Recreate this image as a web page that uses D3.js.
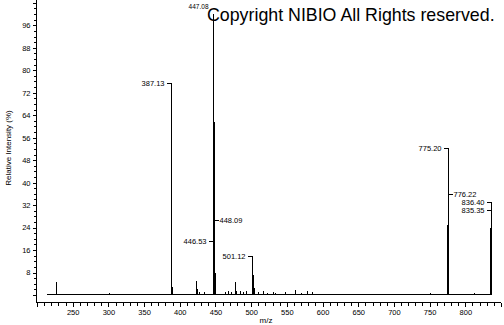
<!DOCTYPE html>
<html>
<head>
<meta charset="utf-8">
<script src="https://cdn.jsdelivr.net/npm/d3@7"></script>
<style>
  body { margin: 0; background: #fff; }
  svg { display: block; font-family: "Liberation Sans", Arial, sans-serif; }
</style>
</head>
<body>
<div id="chart"></div>
<script>
// spectrum peaks (m/z, relative intensity %)
const peakMz = [226.0, 262.5, 277, 293, 301, 339, 355, 371,
  387.13, 388.1, 389.2, 422.7, 424.5, 426.5, 433.5,
  446.53, 447.08, 447.6, 448.09, 449.6,
  463.4, 467.7, 471.8, 477.5, 479, 484.5, 489, 493,
  501.12, 502.1, 504.6, 510, 517, 522, 530, 534, 547.6, 561.7, 570, 578, 585, 600, 626,
  714, 733, 740, 751, 774.8, 775.2, 776.22, 790, 812, 834.9, 835.35, 836.40];
const peakInt = [4.6, 0.5, 0.5, 0.4, 0.6, 0.5, 0.4, 0.4,
  75.5, 40.5, 3, 5.1, 2.2, 1, 1.2,
  19.3, 100, 61.7, 26.7, 7.8,
  1, 1.5, 1.2, 4.6, 1.5, 1.5, 1, 1.3,
  10.8, 7, 2.6, 1, 1.4, 0.8, 1, 0.7, 1, 1.8, 0.6, 1.3, 1, 0.5, 0.5,
  0.5, 0.5, 0.5, 0.6, 25, 52.2, 36, 0.4, 0.6, 23.8, 30.2, 33.2];
const scanRange = [214.6, 838];

// labelled peaks
const labelMz = [387.13, 447.08, 446.53, 448.09, 501.12, 775.20, 776.22, 836.40, 835.35];
const labelText = ['387.13', '447.08', '446.53', '448.09', '501.12', '775.20', '776.22', '836.40', '835.35'];
const labelSide = ['left', 'left', 'left', 'right', 'left', 'left', 'right', 'left', 'left'];

// axes
const xDomain = [200, 850];
const yDomain = [-2.5, 105];
const xTicks = d3.range(200, 851, 10);
const yTicks = d3.range(0, 105, 2);

const width = 504;
const height = 325;

const svg = d3.select('#chart')
  .append('svg')
  .attr('width', width)
  .attr('height', height);

svg.append('rect').attr('width', width).attr('height', height).attr('fill', '#fff');

const x = d3.scaleLinear().domain(xDomain).range([37, 501]);
const y = d3.scaleLinear().domain(yDomain).range([302, 0]);

// x axis
const xAxis = svg.append('g')
  .attr('transform', 'translate(0,302.5)')
  .call(d3.axisBottom(x)
    .tickValues(xTicks)
    .tickSizeOuter(0)
    .tickSize(3)
    .tickFormat(d => (d % 50 === 0 && d > 200 && d < 850) ? d : ''));
xAxis.select('.domain').attr('d', `M36,0H${x(850)}`);
xAxis.selectAll('text').attr('font-size', 7.5).attr('dy', '0.9em').attr('font-family', null);
xAxis.selectAll('.tick line').attr('y2', d => d % 50 === 0 ? 4 : 3);

// y axis
const yAxis = svg.append('g')
  .attr('transform', 'translate(36.5,0)')
  .call(d3.axisLeft(y)
    .tickValues(yTicks)
    .tickSizeOuter(0)
    .tickSize(3)
    .tickFormat(d => (d % 8 === 0 && d > 0 && d < 100) ? d : ''));
yAxis.select('.domain').attr('d', `M0,0V302.5`);
yAxis.selectAll('text').attr('font-size', 7.5).attr('x', -6).attr('font-family', null);
yAxis.selectAll('.tick line').attr('x2', d => d % 8 === 0 ? -4 : -3);
svg.selectAll('.domain, .tick line').attr('stroke', '#000').attr('shape-rendering', 'crispEdges');

// axis titles
svg.append('text')
  .attr('x', 266).attr('y', 323)
  .attr('text-anchor', 'middle')
  .attr('font-size', 8)
  .text('m/z');

svg.append('text')
  .attr('transform', 'translate(11,148) rotate(-90)')
  .attr('text-anchor', 'middle')
  .attr('font-size', 8)
  .text('Relative Intensity (%)');

// spectrum: baseline and sticks
const spec = svg.append('g')
  .attr('stroke', '#000')
  .attr('stroke-width', 1)
  .attr('shape-rendering', 'crispEdges');

spec.append('line')
  .attr('x1', x(scanRange[0])).attr('x2', x(scanRange[1]))
  .attr('y1', Math.round(y(0)) - 0.5).attr('y2', Math.round(y(0)) - 0.5);

spec.selectAll('.peak')
  .data(peakMz)
  .enter()
  .append('line')
  .attr('class', 'peak')
  .attr('x1', d => Math.round(x(d)) + 0.5)
  .attr('x2', d => Math.round(x(d)) + 0.5)
  .attr('y1', Math.round(y(0)) - 0.5)
  .attr('y2', (d, i) => y(peakInt[i]));

// peak labels with short leaders
const labelLift = { '501.12': 9, '447.08': 8 };
const labels = svg.append('g');
labelMz.forEach((m, i) => {
  const k = peakMz.indexOf(m);
  const px = Math.round(x(m)) + 0.5;
  const top = y(peakInt[k]);
  const lift = labelLift[labelText[i]] || 0;
  const ly = Math.round(top - lift) + 0.5;
  const left = labelSide[i] === 'left';
  const small = labelText[i] === '447.08';
  if (!small) {
    labels.append('path')
      .attr('d', left
        ? `M${px - 5},${ly}H${px}V${top}`
        : `M${px},${ly}H${px + 4}`)
      .attr('fill', 'none')
      .attr('stroke', '#000')
      .attr('shape-rendering', 'crispEdges');
  }
  labels.append('text')
    .attr('x', small ? px - 5 : (left ? px - 7 : px + 5))
    .attr('y', ly)
    .attr('dy', '0.35em')
    .attr('text-anchor', left ? 'end' : 'start')
    .attr('font-size', small ? 6.5 : 7.5)
    .text(labelText[i]);
});

// watermark
svg.append('text')
  .attr('x', 207).attr('y', 20.5)
  .attr('font-size', 17.8)
  .attr('fill', '#000')
  .text('Copyright NIBIO All Rights reserved.');
</script>
</body>
</html>
